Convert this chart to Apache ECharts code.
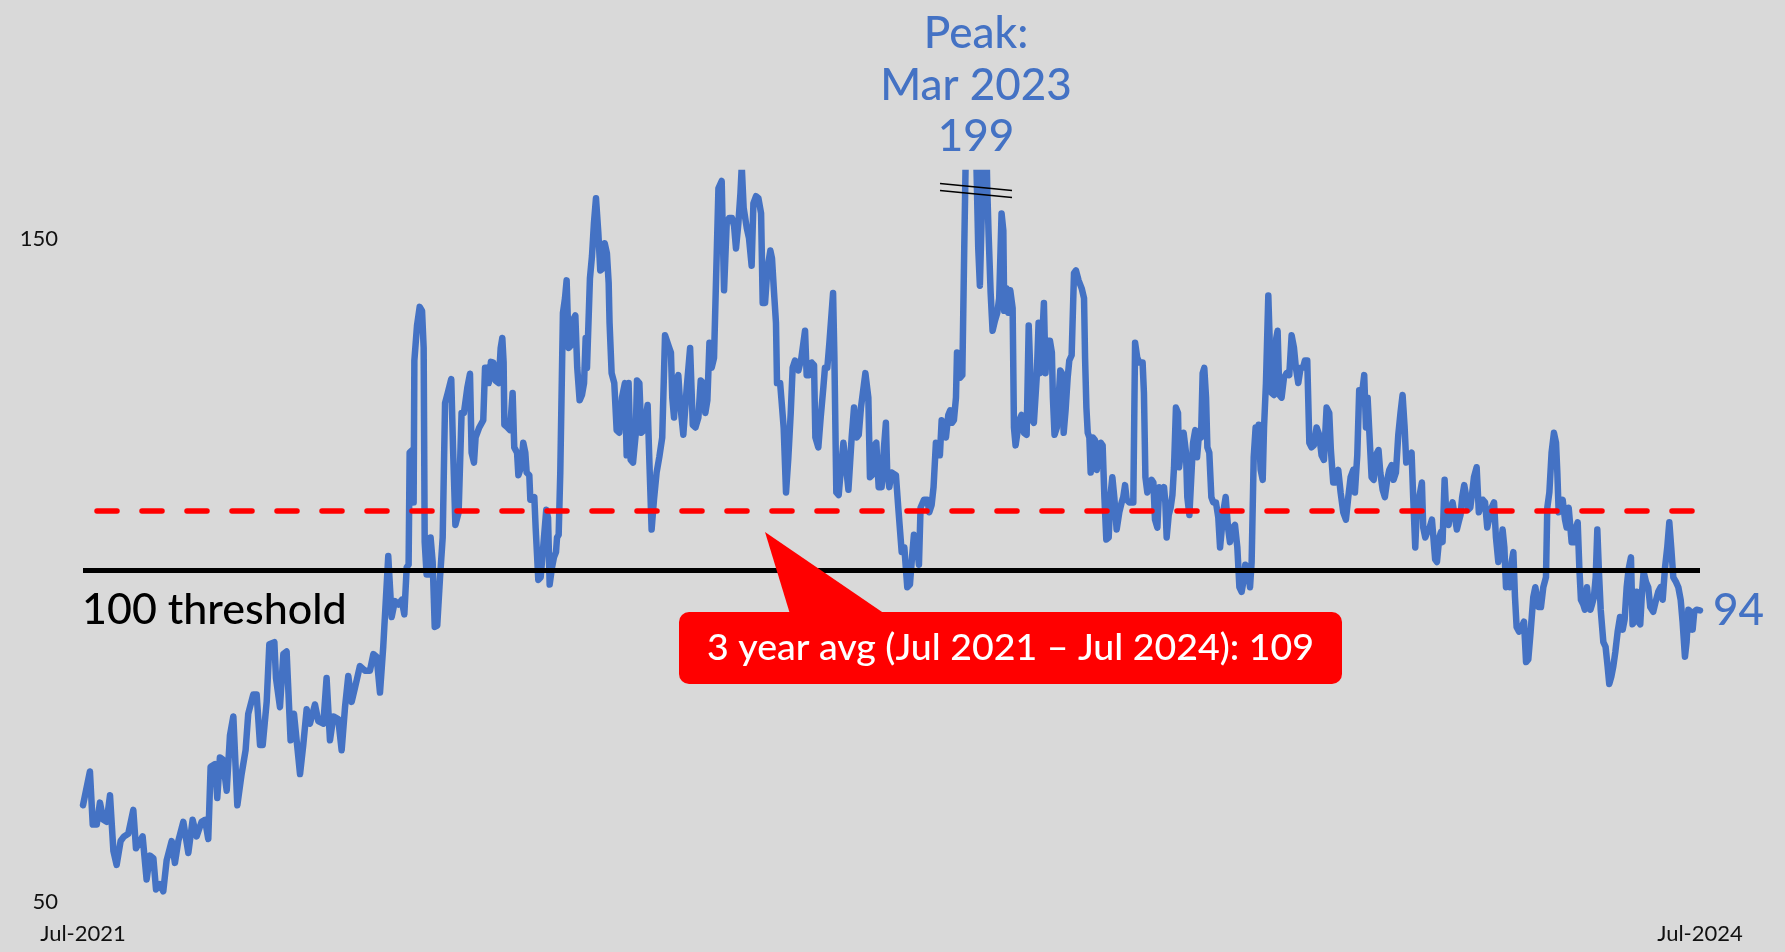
<!DOCTYPE html>
<html>
<head>
<meta charset="utf-8">
<script src="https://cdn.jsdelivr.net/npm/echarts@6/dist/echarts.min.js"></script>
<style>
  html, body { margin: 0; padding: 0; background: #d9d9d9; }
  #chart { width: 1785px; height: 952px; }
</style>
</head>
<body>
<div id="chart"></div>
<script>
// Index level, days counted from 1 Jul 2021 to 1 Jul 2024
const days = [
  0,4.7,6.6,9.3,11.5,13.8,16.0,18.3,20.6,22.8,25.5,27.8,30.7,34.1,35.9,38.6,40.4,43.1,45.4,47.7,
  49.5,52.2,54.4,56.7,60.1,62.3,64.6,68.0,71.4,74.3,77.0,80.4,82.7,84.9,86.5,89.5,91.0,92.8,94.7,97.4,
  99.6,101.9,104.6,107.5,110.2,112.0,115.4,117.7,120.0,121.8,124.5,126.3,129.7,130.8,133.5,135.8,138.0,140.7,143.0,144.8,
  147.1,149.3,151.6,153.8,157.2,159.5,162.9,165.1,167.4,169.7,173.0,175.3,177.6,179.8,182.1,184.3,187.7,191.1,194.5,196.8,
  199.0,201.3,203.5,206.9,209.2,211.4,213.7,216.0,217.8,219.4,220.7,221.4,223.2,224.1,224.6,226.4,228.2,229.8,230.9,231.6,
  232.9,234.5,235.6,237.0,238.4,240.1,242.0,243.8,245.4,247.2,249.6,250.8,252.4,254.6,256.6,258.2,260.5,262.3,263.4,265.0,
  266.1,268.6,271.3,272.5,274.0,275.0,276.5,278.1,279.5,281.7,283.1,284.2,285.1,285.6,287.8,289.4,291.2,292.3,294.2,295.1,
  296.9,298.4,299.8,300.7,302.5,303.2,305.9,306.8,308.6,310.2,312.2,314.0,315.2,316.3,317.9,319.2,320.6,321.3,322.4,323.5,
  325.3,326.7,327.8,329.2,330.7,331.9,333.7,335.0,336.6,338.2,339.6,340.7,341.6,342.9,343.6,345.0,346.3,347.7,349.3,350.6,
  352.2,353.6,355.1,356.3,356.9,358.3,360.1,361.7,363.5,365.3,367.3,368.5,369.8,371.2,372.8,374.6,375.5,377.1,378.4,380.2,
  382.7,383.8,385.4,387.0,388.8,390.6,392.6,394.5,395.8,397.4,398.5,399.4,400.6,401.7,403.5,404.7,406.9,409.2,411.5,413.3,
  415.1,417.1,418.7,420.5,421.8,423.2,424.6,426.1,427.7,429.1,430.7,432.9,433.8,434.5,436.3,437.9,439.9,441.3,442.6,444.2,
  445.6,446.5,447.8,449.9,451.4,453.2,454.4,456.2,457.8,459.6,460.7,462.3,463.9,465.9,467.0,468.4,469.7,470.4,472.5,473.6,
  474.9,476.5,478.1,479.7,481.0,482.6,484.9,486.9,489.4,490.5,492.3,493.9,495.5,496.4,498.4,500.0,501.8,502.9,504.5,505.9,
  508.4,509.3,510.6,512.2,513.8,515.4,517.2,518.8,521.0,522.6,524.4,525.8,527.3,530.3,532.3,533.4,534.8,536.4,537.7,539.3,
  541.3,542.9,544.2,545.1,546.5,548.1,551.0,552.6,554.9,556.7,558.7,560.5,561.9,563.2,565.0,566.6,567.7,570.0,572.3,573.6,
  575.2,576.5,578.1,579.7,580.8,582.0,583.6,584.9,586.5,587.8,589.0,590.3,591.7,592.4,593.5,594.4,596.0,597.3,598.5,599.6,
  600.9,602.5,603.9,605.2,606.8,607.9,609.3,610.7,612.0,612.9,613.8,615.2,616.5,618.1,619.7,621.0,622.6,623.8,624.4,626.0,
  627.2,628.5,630.1,631.0,632.1,633.2,634.6,636.2,637.8,639.6,641.0,643.2,644.5,646.4,647.7,648.6,650.0,651.3,652.4,653.6,
  655.4,656.7,657.4,658.5,660.1,661.3,662.4,663.5,664.7,666.0,667.4,668.5,670.1,671.7,673.0,674.8,676.9,678.5,679.2,680.1,
  681.0,682.1,683.0,684.4,685.9,687.1,688.4,689.8,691.1,692.3,693.6,695.2,696.3,697.7,699.0,700.6,702.4,704.0,705.1,706.3,
  707.4,709.2,711.9,713.1,714.6,716.0,718.2,719.1,720.1,721.4,722.8,724.3,725.5,726.6,728.2,729.5,731.1,732.7,733.6,734.5,
  735.9,737.2,738.4,739.5,740.8,742.2,742.9,744.5,746.0,747.6,748.5,749.9,751.2,752.4,753.9,755.1,756.4,757.8,758.9,760.0,
  761.2,762.1,763.4,764.8,766.1,767.9,769.5,770.7,771.8,773.1,774.5,776.1,777.4,779.2,780.8,782.4,783.8,785.3,786.7,787.8,
  789.4,791.0,792.1,793.5,794.8,795.9,796.9,798.2,799.6,800.5,801.8,803.4,804.5,805.7,807.3,808.8,809.7,810.9,812.4,814.0,
  815.8,817.6,819.2,820.8,822.1,823.7,825.3,826.9,828.2,829.8,831.2,832.7,834.3,836.1,837.9,839.5,841.1,842.9,844.7,845.8,
  847.4,849.2,850.8,852.4,854.2,856.0,857.6,859.2,861.0,862.1,863.7,865.0,866.8,868.4,869.6,870.7,872.0,873.4,874.8,876.3,
  878.1,879.3,880.9,882.4,884.0,885.4,887.0,888.3,889.9,891.5,893.0,894.4,895.8,896.9,898.9,900.5,901.6,903.0,904.1,905.7,
  907.5,908.4,909.8,911.1,912.7,914.3,915.4,916.5,917.7,919.3,920.4,921.5,922.9,924.2,925.6,926.7,928.3,929.9,931.2,932.4,
  933.7,934.8,936.2,937.6,938.9,940.3,941.4,942.8,944.6,946.1,948.7,950.3,951.8,953.2,954.8,956.4,957.7,959.3,960.9,962.2,
  963.4,964.5,966.1,967.2,968.3,969.5,970.6,971.7,973.3,975.1,976.7,978.1,979.6,981.2,983.0,984.4,985.5,986.6,988.2,989.8,
  991.6,992.5,993.9,995.4,997.0,998.4,999.3,1000.2,1001.5,1002.9,1004.5,1005.6,1007.0,1008.1,1009.0,1010.6,1011.9,1013.1,1014.2,1015.3,
  1016.9,1018.0,1019.4,1020.5,1021.7,1022.8,1024.1,1025.3,1026.4,1027.5,1028.7,1030.5,1032.0,1033.4,1034.5,1035.9,1037.2,1038.6,1040.2,1041.8,
  1043.6,1044.9,1046.3,1047.6,1049.2,1050.3,1051.5,1053.0,1054.2,1055.5,1056.7,1057.8,1059.4,1060.9,1062.3,1064.3,1065.9,1067.7,1069.3,1070.7,
  1072.3,1073.8,1075.2,1076.5,1077.9,1079.7,1081.3,1082.9,1084.2,1085.8,1086.9,1088.1,1089.6,1091.0,1092.1,1093.7,1096.0
];

const values = [
  64.6,69.7,61.7,61.7,65.0,62.4,62.1,66.1,57.7,55.6,59.2,59.9,60.3,63.9,58.1,59.2,59.9,53.4,57.0,56.6,
  51.9,52.7,51.6,56.3,59.2,55.9,59.2,62.1,57.4,62.4,59.9,62.1,62.4,59.5,70.4,70.8,65.7,71.8,71.5,66.8,
  75.1,78.0,64.6,69.3,72.9,78.4,81.3,81.3,73.7,73.7,80.2,88.9,89.2,83.8,79.4,87.4,87.8,74.4,78.4,74.4,
  69.3,73.7,79.1,76.9,79.8,77.3,76.9,83.8,74.4,78.0,77.6,72.9,79.4,84.1,80.2,82.3,85.6,84.9,84.9,87.4,
  87.0,81.6,88.5,102.2,93.0,95.4,94.9,95.6,93.4,100.5,100.9,117.8,118.2,110.3,131.7,137.0,139.8,139.2,133.6,104.3,
  99.4,99.4,105.0,101.3,91.5,91.7,99.0,105.0,125.3,126.8,128.9,118.6,106.9,108.8,123.8,123.8,127.6,129.7,117.8,116.3,
  120.1,121.6,122.7,130.6,130.6,128.3,131.5,131.4,128.7,128.3,133.6,135.1,131.4,122.0,121.6,121.2,126.8,118.6,117.8,114.4,
  115.6,119.3,117.8,114.8,114.4,110.7,111.1,106.5,98.6,99.0,104.3,109.2,108.0,97.9,100.5,102.0,102.8,105.0,105.4,114.8,
  138.9,141.1,143.8,133.6,134.0,137.7,138.5,130.6,125.7,126.5,128.3,135.1,130.6,130.6,144.1,147.5,152.4,156.2,150.9,145.3,
  145.6,149.4,147.9,143.4,137.4,129.8,128.3,121.2,120.8,126.1,128.3,117.4,128.3,116.7,116.3,120.5,128.7,128.3,120.8,121.2,
  125.0,117.1,106.2,110.7,114.8,117.1,120.1,135.5,135.5,133.6,132.9,126.1,123.1,128.3,129.5,125.3,120.5,127.6,133.6,122.0,
  121.6,123.1,128.7,128.3,123.8,125.7,134.4,130.6,132.1,144.1,157.7,158.8,149.4,142.3,152.4,153.2,153.2,152.0,148.6,152.4,
  156.9,161.0,154.7,151.7,150.2,146.0,155.4,156.5,156.2,153.9,140.4,140.4,145.6,148.3,147.1,141.9,137.4,128.3,128.3,125.3,
  121.6,111.8,117.1,123.8,130.6,131.7,130.2,132.1,136.2,129.5,129.5,131.4,131.0,120.1,118.6,123.1,127.6,130.6,130.6,134.4,
  141.9,132.1,111.8,111.4,115.6,119.3,115.6,112.2,120.1,124.6,120.1,120.5,124.6,129.8,126.1,114.1,114.4,118.9,119.3,112.6,
  112.6,118.6,122.3,114.8,112.6,114.8,114.4,109.5,102.8,103.5,97.5,97.9,102.0,105.4,104.3,100.9,109.5,110.7,110.7,108.8,
  109.9,112.6,119.3,118.6,117.4,122.7,122.0,120.1,123.5,124.2,122.3,122.7,126.1,132.9,133.2,129.1,129.5,148.6,165.0,185.0,
  199.0,178.0,190.0,165.0,148.6,143.0,154.7,170.0,168.0,157.7,150.9,141.9,136.2,137.7,138.9,141.1,153.9,151.3,139.2,142.6,
  138.9,142.3,139.6,121.6,118.9,118.6,122.7,123.5,120.8,120.5,137.0,122.7,122.3,129.1,137.4,129.8,134.4,140.4,129.8,134.7,
  134.7,132.9,126.1,120.5,121.6,126.1,130.2,129.8,120.8,124.2,129.1,131.7,132.5,144.9,145.3,143.8,142.6,141.1,132.1,124.6,
  120.8,120.1,114.8,120.1,119.7,115.2,117.8,119.3,118.9,111.1,104.7,105.0,111.1,114.1,111.1,106.2,108.8,110.3,111.1,112.9,
  110.7,110.3,110.3,134.4,132.1,131.4,131.4,126.8,114.1,111.8,112.6,113.7,113.3,107.7,106.5,112.6,111.8,112.6,110.3,105.0,
  108.4,109.5,111.4,115.6,124.6,123.8,115.6,118.6,120.8,117.8,111.1,108.4,114.1,119.3,121.2,117.1,120.5,120.1,129.8,130.6,
  126.1,118.6,117.8,111.1,110.3,110.3,108.0,103.5,103.2,109.2,111.1,106.5,104.3,106.5,106.9,103.5,97.5,96.8,98.6,100.9,
  100.5,97.5,101.3,117.1,121.6,118.6,122.0,115.2,113.7,121.6,128.3,141.5,133.6,126.8,126.5,135.1,136.2,126.5,126.1,129.1,
  129.8,129.5,135.5,133.6,130.6,128.3,130.6,130.6,131.7,131.7,119.3,118.6,118.9,121.6,120.5,117.4,116.7,124.6,123.8,118.2,
  113.3,113.3,115.2,111.8,108.8,107.7,111.1,114.1,115.2,111.8,117.4,127.2,126.5,129.5,121.6,126.1,126.1,114.1,113.7,117.4,
  118.2,114.8,112.2,111.1,113.7,115.2,115.9,113.7,114.8,120.5,123.8,126.5,121.6,116.3,117.4,117.8,111.1,103.5,109.5,111.1,
  113.3,106.5,105.0,105.8,106.5,107.7,104.7,101.7,101.3,105.0,105.8,104.3,113.7,107.7,106.9,109.2,110.3,108.0,106.2,107.3,
  108.4,111.1,112.9,111.1,109.2,109.5,111.4,114.1,115.6,108.8,110.7,110.3,106.5,108.0,109.5,110.3,105.0,101.3,103.5,106.2,
  103.5,97.5,98.3,97.5,101.3,102.8,96.0,91.5,90.8,91.5,92.3,86.2,86.6,90.8,96.0,97.5,97.5,94.5,94.5,97.5,
  99.0,109.5,111.8,117.8,120.8,119.3,114.8,108.8,108.8,110.7,107.7,106.5,109.5,109.2,104.3,104.3,106.5,107.3,100.5,95.6,
  94.9,94.1,97.5,94.9,94.1,94.9,96.0,99.0,106.2,99.8,94.1,89.2,88.5,85.5,82.9,84.0,85.5,87.7,90.8,93.0,
  91.1,92.6,97.5,100.2,102.0,91.9,92.3,96.8,92.3,91.9,96.8,99.8,98.3,97.5,94.5,93.8,95.3,96.8,97.5,95.6,
  100.5,103.5,107.3,103.5,99.0,98.3,97.5,95.6,92.3,87.0,89.2,94.1,93.8,91.1,93.8,94.1,94.0
];

// Reference levels and axis labels
const thresholdLevel = 100;
const averageLevel = 109;
const yTickLabels = [50, 150];
const xTickLabels = ['Jul-2021', 'Jul-2024'];
const totalDays = 1096;
const peakLines = ['Peak:', 'Mar 2023', '199'];

const seriesData = days.map((d, i) => [d, values[i]]);

const BLUE = '#4472C4';
const FONT = 'Lato, "Open Sans", sans-serif';

const chart = echarts.init(document.getElementById('chart'), null, { renderer: 'canvas' });

// Three-line peak caption above the clipped spike
const peakText = peakLines.map((t, i) => ({
  type: 'text',
  x: 976,
  y: 34 + i * 51.5,
  z: 10,
  style: {
    text: t,
    fontFamily: FONT,
    fontSize: 44,
    fontWeight: 500,
    fill: BLUE,
    align: 'center',
    verticalAlign: 'middle'
  }
}));

chart.setOption({
  backgroundColor: '#d9d9d9',
  animation: false,
  grid: { left: 83, right: 85, top: 173, bottom: 50, containLabel: false },
  xAxis: {
    type: 'value',
    min: 0,
    max: totalDays,
    interval: totalDays,
    axisLine: { show: false },
    axisTick: { show: false },
    splitLine: { show: false },
    axisLabel: {
      margin: 21,
      fontFamily: FONT,
      fontSize: 22,
      color: '#111',
      formatter: v => (v === 0 ? xTickLabels[0] : v === totalDays ? xTickLabels[1] : '')
    }
  },
  yAxis: {
    type: 'value',
    min: 50,
    max: 160,
    interval: 100,
    axisLine: { show: false },
    axisTick: { show: false },
    splitLine: { show: false },
    axisLabel: {
      margin: 25,
      fontFamily: FONT,
      fontSize: 22,
      color: '#111',
      formatter: v => (yTickLabels.includes(v) ? String(v) : '')
    }
  },
  series: [
    {
      type: 'line',
      data: seriesData,
      showSymbol: false,
      clip: true,
      z: 2,
      lineStyle: { color: BLUE, width: 6.5, join: 'round', cap: 'round' },
      endLabel: {
        show: true,
        distance: 13,
        fontFamily: FONT,
        fontSize: 44,
        fontWeight: 500,
        color: BLUE,
        formatter: p => String(Math.round(p.value[1]))
      }
    },
    {
      type: 'line',
      data: [],
      z: 4,
      markLine: {
        silent: true,
        symbol: 'none',
        z: 4,
        label: { show: false },
        data: [
          {
            yAxis: averageLevel,
            lineStyle: { color: '#ff0000', width: 5.5, type: [20, 25], cap: 'round', dashOffset: 31 }
          },
          {
            yAxis: thresholdLevel,
            lineStyle: { color: '#000000', width: 5, type: 'solid' }
          }
        ]
      }
    }
  ],
  graphic: [
    {
      type: 'text',
      x: 82,
      y: 610,
      z: 10,
      style: {
        text: '100 threshold',
        fontFamily: FONT,
        fontSize: 43,
        fontWeight: 500,
        fill: '#000',
        verticalAlign: 'middle'
      }
    },
    ...peakText,
    {
      type: 'line',
      z: 10,
      shape: { x1: 940, y1: 183.5, x2: 1012, y2: 190.5 },
      style: { stroke: '#000', lineWidth: 1.5 }
    },
    {
      type: 'line',
      z: 10,
      shape: { x1: 940, y1: 190.5, x2: 1012, y2: 197.5 },
      style: { stroke: '#000', lineWidth: 1.5 }
    },
    {
      type: 'polygon',
      z: 9,
      shape: { points: [[765, 532], [790, 614], [885, 614]] },
      style: { fill: '#ff0000' }
    },
    {
      type: 'rect',
      z: 9,
      shape: { x: 679, y: 612, width: 663, height: 72, r: 10 },
      style: { fill: '#ff0000' }
    },
    {
      type: 'text',
      x: 1010.5,
      y: 648,
      z: 11,
      style: {
        text: '3 year avg (Jul 2021 \u2013 Jul 2024): 109',
        fontFamily: FONT,
        fontSize: 37.5,
        fontWeight: 500,
        fill: '#fff',
        align: 'center',
        verticalAlign: 'middle'
      }
    }
  ]
});
</script>
</body>
</html>
